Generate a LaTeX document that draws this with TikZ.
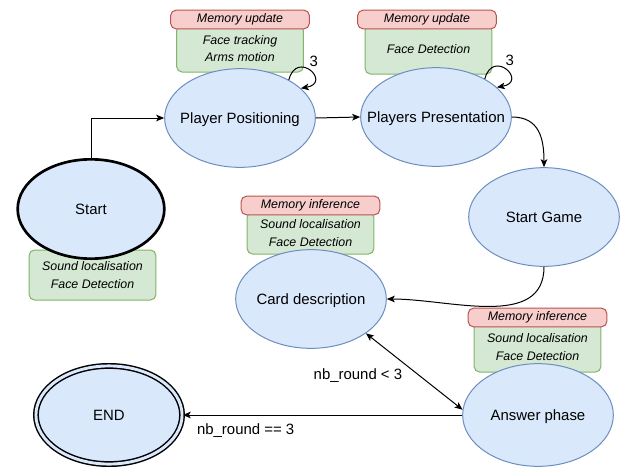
\documentclass[tikz,border=0pt]{standalone}
\usepackage{fontspec}
\setmainfont{Liberation Sans}
\usetikzlibrary{arrows.meta,shapes.geometric}
\definecolor{stateblue}{HTML}{DAE8FC}
\definecolor{stateline}{HTML}{6C8EBF}
\definecolor{sensegreen}{HTML}{D5E8D4}
\definecolor{senseline}{HTML}{82B366}
\definecolor{memred}{HTML}{F8CECC}
\definecolor{memline}{HTML}{B85450}

\begin{document}
\begin{tikzpicture}[x=0.75pt,y=-0.75pt,>={Stealth[length=6pt,width=5pt,inset=1.5pt]},line width=0.75pt]
    \tikzstyle{state}=[ellipse,draw=stateline,fill=stateblue,line width=0.75pt,minimum width=113pt,minimum height=74pt,inner xsep=-16pt,inner ysep=0pt,text depth=0pt,font=\fontsize{11.2}{13}\selectfont]
    \tikzstyle{start state}=[state,draw=black,line width=2pt,minimum width=110pt,minimum height=74.5pt]
    \tikzstyle{end state}=[state,draw=black,double=stateblue,double distance=2.2pt,line width=1.1pt,minimum width=109.6pt,minimum height=73.6pt]
    \tikzstyle{sense}=[rectangle,rounded corners=4pt,draw=senseline,fill=sensegreen,minimum width=95pt,inner sep=0pt,align=center,font=\fontsize{9.3}{13}\selectfont\itshape]
    \tikzstyle{memory}=[sense,draw=memline,fill=memred,minimum width=104pt,minimum height=14pt]
    \tikzstyle{annot}=[font=\fontsize{11.2}{13}\selectfont]

    \useasboundingbox (0,0) rectangle (621,468);

    % Draw the sensor boxes below the states
    \node[sense,minimum height=37.5pt] (Start-sense) at (92.5,275) {Sound localisation\\Face Detection};
    \node[sense,minimum height=35.25pt] (PP-sense) at (240,48.5) {Face tracking\\Arms motion};
    \node[sense,minimum height=36.75pt] (PresP-sense) at (428.5,49.5) {Face Detection};
    \node[sense,minimum height=31.5pt] (CD-sense) at (310.5,233) {Sound localisation\\Face Detection};
    \node[sense,minimum height=37.5pt] (AP-sense) at (537.5,347) {Sound localisation\\Face Detection};

    % Draw the memory headers
    \foreach \name/\x/\y/\txt in {PP/240/19.5/Memory update,PresP/427/19.5/Memory update,CD/310.5/205.5/Memory inference,AP/537.5/317.5/Memory inference}
        \node[memory] (\name-mem) at (\x,\y) {\txt};

    % Draw the states
    \node[start state] (Start) at (91,209) {Start};
    \node[state] (PP) at (240,118) {Player Positioning};
    \node[state] (PresP) at (436,117) {Players Presentation};
    \node[state] (SG) at (544,217) {Start Game};
    \node[state] (CD) at (311,299) {Card description};
    \node[state,minimum height=77pt] (AP) at (538,415) {Answer phase};
    \node[end state] (END) at (109,415) {END};

    % Connect the states
    \draw[->] (Start.north) |- (PP.west);
    \draw[->] (PP.east) -- (PresP.west);
    \draw[->] (PresP.east) to[out=0,in=90,looseness=1.2] (SG.north);
    \draw[->] (SG.south) to[out=-90,in=0] (CD.east);
    \draw[<->] (CD.-32) -- (AP.176)
        node[annot,pos=0.55,left,xshift=-9pt] (lt-label) {nb\_round < 3};
    \draw[->] (AP.west) -- (END.east)
        node[annot,pos=0.775,below=3pt] (eq-label) {nb\_round == 3};

    % Self loops
    \foreach \name in {PP,PresP}
        \draw[->] (\name.38) .. controls +(75:24pt) and +(10:24pt) .. (\name.26)
            node[annot,pos=0.45,above right,inner sep=1pt] (\name-count) {3};
\end{tikzpicture}
\end{document}
